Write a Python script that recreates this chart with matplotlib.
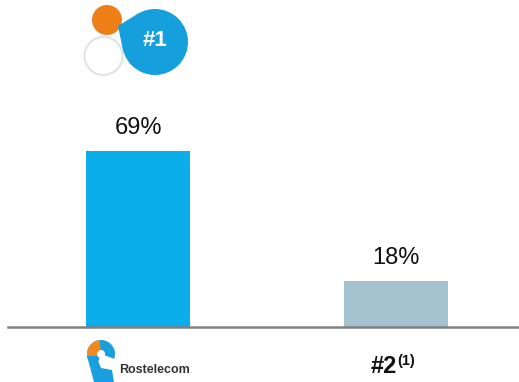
import numpy as np
import matplotlib
matplotlib.use("Agg")
import matplotlib.pyplot as plt
from matplotlib.patches import Circle, Wedge, Polygon

plt.rcParams["font.family"] = ["Liberation Sans", "DejaVu Sans"]

# data
categories = ["Rostelecom", "#2"]
shares = [69, 18]
labels = ["69%", "18%"]
bar_colors = ["#0AAEEB", "#A4C2CE"]

W, H = 519, 382
fig = plt.figure(figsize=(W / 100, H / 100), dpi=100)

# main bar axes: baseline at y=327 px, ~2.55 px per percentage point
base_px = 327
top_px = 100
ppx = 2.55
ax = fig.add_axes([8 / W, (H - base_px) / H, 1 - 8 / W, (base_px - top_px) / H])
ax.set_ylim(0, (base_px - top_px) / ppx)
ax.set_xlim((8 - 138) / 258, (W - 138) / 258)
x = list(range(len(categories)))
ax.bar(x, shares, width=104 / 258, color=bar_colors, zorder=2)
for xi, v, lab in zip(x, shares, labels):
    ax.text(xi, v + 17 / ppx, lab, ha="center", va="baseline", fontsize=17,
            color="#111111", clip_on=False)
for s in ["top", "right", "left"]:
    ax.spines[s].set_visible(False)
ax.spines["bottom"].set_color("#808080")
ax.spines["bottom"].set_linewidth(1.8)
ax.set_xticks([])
ax.set_yticks([])
ax.patch.set_alpha(0)

# overlay in pixel coordinates (y down) for the logos
ov = fig.add_axes([0, 0, 1, 1])
ov.set_xlim(0, W)
ov.set_ylim(H, 0)
ov.axis("off")
ov.patch.set_alpha(0)

# "#1" badge
blue = "#159FDC"
ov.add_patch(Circle((103.5, 56), 19, facecolor="white", edgecolor="#E2E2E2", lw=1.5))
ov.add_patch(Circle((107, 20), 15, facecolor="#EE7F16", edgecolor="none"))
c = np.array([155.0, 42.0])
r = 33.0
p = np.array([118.0, 26.0])
d = p - c
dist = np.hypot(*d)
base_ang = np.arctan2(d[1], d[0])
off = np.arccos(r / dist)
t1 = c + r * np.array([np.cos(base_ang + off), np.sin(base_ang + off)])
t2 = c + r * np.array([np.cos(base_ang - off), np.sin(base_ang - off)])
ov.add_patch(Polygon([p, t1, c, t2], closed=True, facecolor=blue, edgecolor="none"))
ov.add_patch(Circle(c, r, facecolor=blue, edgecolor="none"))
ov.text(155, 40, "#1", ha="center", va="center", color="white",
        fontsize=16, fontweight="bold")

# Rostelecom logo (screen angle a -> data angle -a because y is flipped)
lb = "#1A9FDE"
ov.add_patch(Wedge((101, 354), 14, -250, 20, width=10, facecolor=lb, edgecolor="none"))
ov.add_patch(Wedge((101, 354), 14, -200, -95, width=10, facecolor="#F08A1E",
                   edgecolor="none"))
ov.add_patch(Polygon([(87, 356), (96, 356), (101, 368), (112, 370), (114, 382), (94, 382)],
                     closed=True, facecolor=lb, edgecolor="none"))
ov.text(119, 373, "Rostelecom", ha="left", va="baseline", color="#333333",
        fontsize=9, fontweight="bold")

# competitor label
ov.text(371, 373, "#2", ha="left", va="baseline",
        color="#111111", fontsize=17, fontweight="bold")
ov.text(397, 365, "(1)", ha="left", va="baseline",
        color="#111111", fontsize=10.5, fontweight="bold")

fig.savefig("out.png", dpi=100)
